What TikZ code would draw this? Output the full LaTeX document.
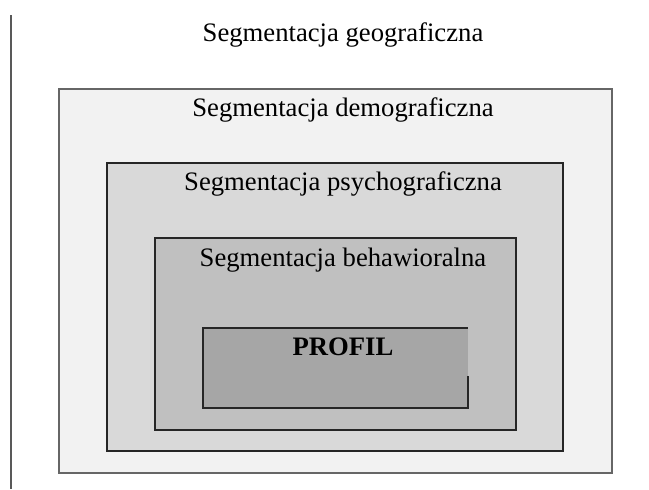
\documentclass[tikz,border=0pt]{standalone}
\usepackage{fontspec}
\setmainfont{Liberation Serif}
\usepackage{xcolor}
\usetikzlibrary{positioning}
\definecolor{demogr}{RGB}{242, 242, 242}
\definecolor{psycho}{RGB}{217, 217, 217}
\definecolor{behav}{RGB}{192, 192, 192}
\definecolor{profil}{RGB}{166, 166, 166}

\begin{document}
\begin{tikzpicture}[
    x=0.75pt, y=-0.75pt,
    layer/.style={
        draw=black!85, line width=0.8pt
    },
    label/.style={
        anchor=base, inner sep=0pt,
        font=\fontsize{20}{24}\selectfont
    }
]
\useasboundingbox (0,0) rectangle (649,489);

% Left rule
\draw[black!65, line width=1pt] (11,15) -- (11,489);

% Nested segments
\draw[layer, draw=black!60, fill=demogr] (59,89) rectangle (612,473);
\draw[layer, fill=psycho] (107,163) rectangle (563,451);
\draw[layer, fill=behav] (155,238) rectangle (516,430);

% Profile box (right side partly open)
\fill[profil] (203,328) rectangle (468,408);
\draw[layer] (468,376) -- (468,408) -- (203,408) -- (203,328) -- (468,328);

% Labels
\node[label] (geo) at (343,41) {Segmentacja geograficzna};
\node[label] (demo) at (343,116) {Segmentacja demograficzna};
\node[label] (psych) at (343,190) {Segmentacja psychograficzna};
\node[label] (beh) at (343,266) {Segmentacja behawioralna};
\node[label, font=\fontsize{20}{24}\selectfont\bfseries] (prof) at (343,355) {PROFIL};

\end{tikzpicture}
\end{document}
